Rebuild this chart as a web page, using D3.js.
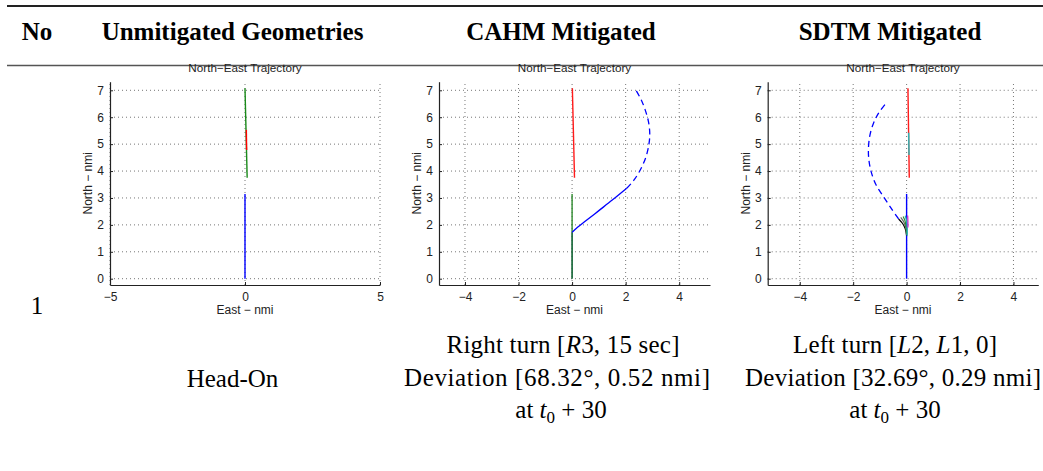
<!DOCTYPE html>
<html>
<head>
<meta charset="utf-8">
<script src="https://cdn.jsdelivr.net/npm/d3@7"></script>
<style>
  html, body { margin: 0; padding: 0; background: #fff; }
  svg { display: block; }
</style>
</head>
<body>
<script>
// ---------------- DATA ----------------
const headers = ["No", "Unmitigated Geometries", "CAHM Mitigated", "SDTM Mitigated"];
const rowNumber = "1";
const geometryName = "Head-On";
const plotTitle = "North\u2212East Trajectory";
const xLabel = "East \u2212 nmi";
const yLabel = "North \u2212 nmi";

const xTicksUnmitigated = [-5, 0, 5];
const xTicksMitigated = [-4, -2, 0, 2, 4];
const yTicks = [0, 1, 2, 3, 4, 5, 6, 7];

// Panel 1: unmitigated head-on
const p1Ownship = [[0, 0], [0, 3.15]];
const p1Intruder = [[0.0, 7.08], [0.08, 3.75]];
const p1IntruderMark = [[0.05, 5.53], [0.06, 4.78]];

// Panel 2: CAHM mitigated
const p2Intruder = [[0.01, 7.08], [0.09, 3.75]];
const p2OwnBefore = [[0, 0], [0, 1.72]];
const p2OwnOriginal = [[0, 1.72], [0, 3.15]];
const p2ResolutionSolid = [[0, 1.72], [0.1, 1.82], [0.5, 2.14], [1.0, 2.53], [1.5, 2.92], [2.04, 3.36]];
const p2ResolutionDashed = [[2.04, 3.36], [2.3, 3.65], [2.55, 4.05], [2.75, 4.5], [2.87, 5.0], [2.9, 5.4],
                            [2.85, 5.85], [2.72, 6.3], [2.58, 6.65], [2.4, 6.98]];

// Panel 3: SDTM mitigated
const p3Intruder = [[0.05, 7.08], [0.1, 3.75]];
const p3IntruderMark = [[0.08, 5.42], [0.09, 4.6]];
const p3Ownship = [[0, 0], [0, 3.15]];
const p3ResolutionDashed = [[-0.3, 2.22], [-0.6, 2.65], [-0.9, 3.1], [-1.15, 3.5], [-1.32, 3.95], [-1.41, 4.4],
                            [-1.43, 4.8], [-1.38, 5.3], [-1.25, 5.75], [-1.05, 6.15], [-0.75, 6.55]];
const p3ArcBlack = [[0, 1.6], [-0.05, 1.85], [-0.15, 2.05], [-0.3, 2.22]];
const p3ArcGray = [[0, 1.63], [-0.03, 1.9], [-0.1, 2.1], [-0.22, 2.28]];
const p3ArcGreen = [[0, 1.66], [-0.02, 1.95], [-0.06, 2.15], [-0.13, 2.31]];
const p3ArcTeal = [[0.02, 1.6], [0.02, 1.9], [0.0, 2.15], [-0.05, 2.34]];
const p3ArcMagenta = [[0.05, 1.9], [0.05, 2.1], [0.04, 2.35]];

const cahmText = ["Right turn [", {i: "R"}, "3, 15 sec]"];
const cahmDeviation = "Deviation [68.32\u00B0, 0.52 nmi]";
const sdtmText = ["Left turn [", {i: "L"}, "2, ", {i: "L"}, "1, 0]"];
const sdtmDeviation = "Deviation [32.69\u00B0, 0.29 nmi]";

// ---------------- DRAW ----------------
const W = 1043, H = 471;
const svg = d3.select("body").append("svg").attr("width", W).attr("height", H);
svg.append("rect").attr("width", W).attr("height", H).attr("fill", "#fff");

// table rules
svg.append("line").attr("x1", 7).attr("x2", W).attr("y1", 6).attr("y2", 6)
  .attr("stroke", "#222").attr("stroke-width", 2);
svg.append("line").attr("x1", 7).attr("x2", W).attr("y1", 65.5).attr("y2", 65.5)
  .attr("stroke", "#555").attr("stroke-width", 1.3);

const serif = "'Liberation Serif', 'Times New Roman', serif";
const sans = "'Liberation Sans', Arial, Helvetica, sans-serif";
const colX = [37, 232.5, 561, 890];

svg.selectAll("text.hdr").data(headers).enter().append("text")
  .attr("class", "hdr")
  .attr("x", (d, i) => colX[i]).attr("y", 40)
  .attr("text-anchor", "middle")
  .attr("font-family", serif).attr("font-weight", "bold").attr("font-size", 25)
  .attr("fill", "#000")
  .text(d => d);

svg.append("text").attr("x", colX[0]).attr("y", 314)
  .attr("text-anchor", "middle").attr("font-family", serif).attr("font-size", 25)
  .text(rowNumber);
svg.append("text").attr("x", colX[1]).attr("y", 387)
  .attr("text-anchor", "middle").attr("font-family", serif).attr("font-size", 25)
  .text(geometryName);

function richText(x, y, parts, len) {
  const t = svg.append("text").attr("x", x).attr("y", y)
    .attr("text-anchor", "middle").attr("font-family", serif).attr("font-size", 25)
    .attr("fill", "#000").attr("xml:space", "preserve");
  if (len) t.attr("textLength", len).attr("lengthAdjust", "spacing");
  parts.forEach(p => {
    if (typeof p === "string") t.append("tspan").text(p);
    else if (p.i) t.append("tspan").attr("font-style", "italic").text(p.i);
  });
  return t;
}
function atText(x, y) {
  const t = svg.append("text").attr("x", x).attr("y", y)
    .attr("text-anchor", "middle").attr("font-family", serif).attr("font-size", 25)
    .attr("fill", "#000").attr("xml:space", "preserve");
  t.append("tspan").text("at ");
  t.append("tspan").attr("font-style", "italic").text("t");
  t.append("tspan").attr("font-size", 17).attr("dy", 5).text("0");
  t.append("tspan").attr("dy", -5).text(" + 30");
}
richText(563, 353, cahmText, 233);
richText(557, 386, [cahmDeviation], 306);
atText(561, 418);
richText(895, 353, sdtmText, 204);
richText(893, 386, [sdtmDeviation], 296);
atText(895, 418);

// panels
const panels = [
  { left: 110, right: 380, xDomain: [-5, 5], xTicks: xTicksUnmitigated,
    series: [
      { d: p1Ownship, c: "#0000ff", w: 1.4 },
      { d: p1Intruder, c: "#1a8a1a", w: 1.4 },
      { d: p1IntruderMark, c: "#ff0000", w: 1.4 }
    ] },
  { left: 439, right: 710, xDomain: [-4.97, 5.15], xTicks: xTicksMitigated,
    series: [
      { d: p2Intruder, c: "#ff1a1a", w: 1.4 },
      { d: p2OwnOriginal, c: "#2e8b2e", w: 1.4 },
      { d: p2OwnBefore, c: "#1b6a3c", w: 1.7 },
      { d: p2ResolutionSolid, c: "#0000ff", w: 1.3 },
      { d: p2ResolutionDashed, c: "#0000ff", w: 1.3, dash: "6,4" }
    ] },
  { left: 767.7, right: 1038.3, xDomain: [-5.2, 4.93], xTicks: xTicksMitigated,
    series: [
      { d: p3Intruder, c: "#ff1a1a", w: 1.4 },
      { d: p3IntruderMark, c: "#20c0c0", w: 1.4 },
      { d: p3Ownship, c: "#0000ff", w: 1.4 },
      { d: p3ResolutionDashed, c: "#0000ff", w: 1.3, dash: "6,4" },
      { d: p3ArcBlack, c: "#000000", w: 1.2 },
      { d: p3ArcGray, c: "#666666", w: 1.2 },
      { d: p3ArcGreen, c: "#2e8b2e", w: 1.2 },
      { d: p3ArcTeal, c: "#1fb0b0", w: 1.3 },
      { d: p3ArcMagenta, c: "#d020d0", w: 1.2 }
    ] }
];

const plotTop = 81.7, plotBottom = 285;
const yDomain = [-0.234, 7.32];

panels.forEach(p => {
  const x = d3.scaleLinear().domain(p.xDomain).range([p.left, p.right]);
  const y = d3.scaleLinear().domain(yDomain).range([plotBottom, plotTop]);
  const g = svg.append("g");

  // grid
  const grid = g.append("g").attr("stroke", "#666").attr("stroke-width", 0.9)
    .attr("stroke-dasharray", "1,3");
  grid.selectAll("line.v").data(p.xTicks).enter().append("line").attr("class", "v")
    .attr("x1", d => x(d)).attr("x2", d => x(d)).attr("y1", plotBottom).attr("y2", plotTop);
  grid.selectAll("line.h").data(yTicks).enter().append("line").attr("class", "h")
    .attr("y1", d => y(d)).attr("y2", d => y(d)).attr("x1", p.left).attr("x2", p.right);

  // series
  const line = d3.line().x(d => x(d[0])).y(d => y(d[1])).curve(d3.curveCatmullRom);
  p.series.forEach(s => {
    g.append("path").attr("d", line(s.d)).attr("fill", "none")
      .attr("stroke", s.c).attr("stroke-width", s.w)
      .attr("stroke-dasharray", s.dash || null);
  });

  // axes
  const xa = g.append("g").attr("transform", `translate(0,${plotBottom})`)
    .call(d3.axisBottom(x).tickValues(p.xTicks).tickSizeInner(-3).tickSizeOuter(0).tickPadding(7)
      .tickFormat(d3.format("d")));
  const ya = g.append("g").attr("transform", `translate(${p.left},0)`)
    .call(d3.axisLeft(y).tickValues(yTicks).tickSizeInner(-3).tickSizeOuter(0).tickPadding(6)
      .tickFormat(d3.format("d")));
  [xa, ya].forEach(a => {
    a.select(".domain").attr("stroke", "#222").attr("stroke-width", 1.2);
    a.selectAll(".tick line").attr("stroke", "#222");
    a.selectAll(".tick text").attr("font-family", sans).attr("font-size", 12).attr("fill", "#222");
  });

  // title and labels
  g.append("text").attr("x", (p.left + p.right) / 2).attr("y", 72)
    .attr("text-anchor", "middle").attr("font-family", sans).attr("font-size", 11.7)
    .attr("fill", "#222").text(plotTitle);
  g.append("text").attr("x", (p.left + p.right) / 2).attr("y", 314)
    .attr("text-anchor", "middle").attr("font-family", sans).attr("font-size", 12)
    .attr("fill", "#222").text(xLabel);
  g.append("text")
    .attr("transform", `translate(${p.left - 18},${(plotTop + plotBottom) / 2}) rotate(-90)`)
    .attr("text-anchor", "middle").attr("font-family", sans).attr("font-size", 12)
    .attr("fill", "#222").text(yLabel);
});
</script>
</body>
</html>
